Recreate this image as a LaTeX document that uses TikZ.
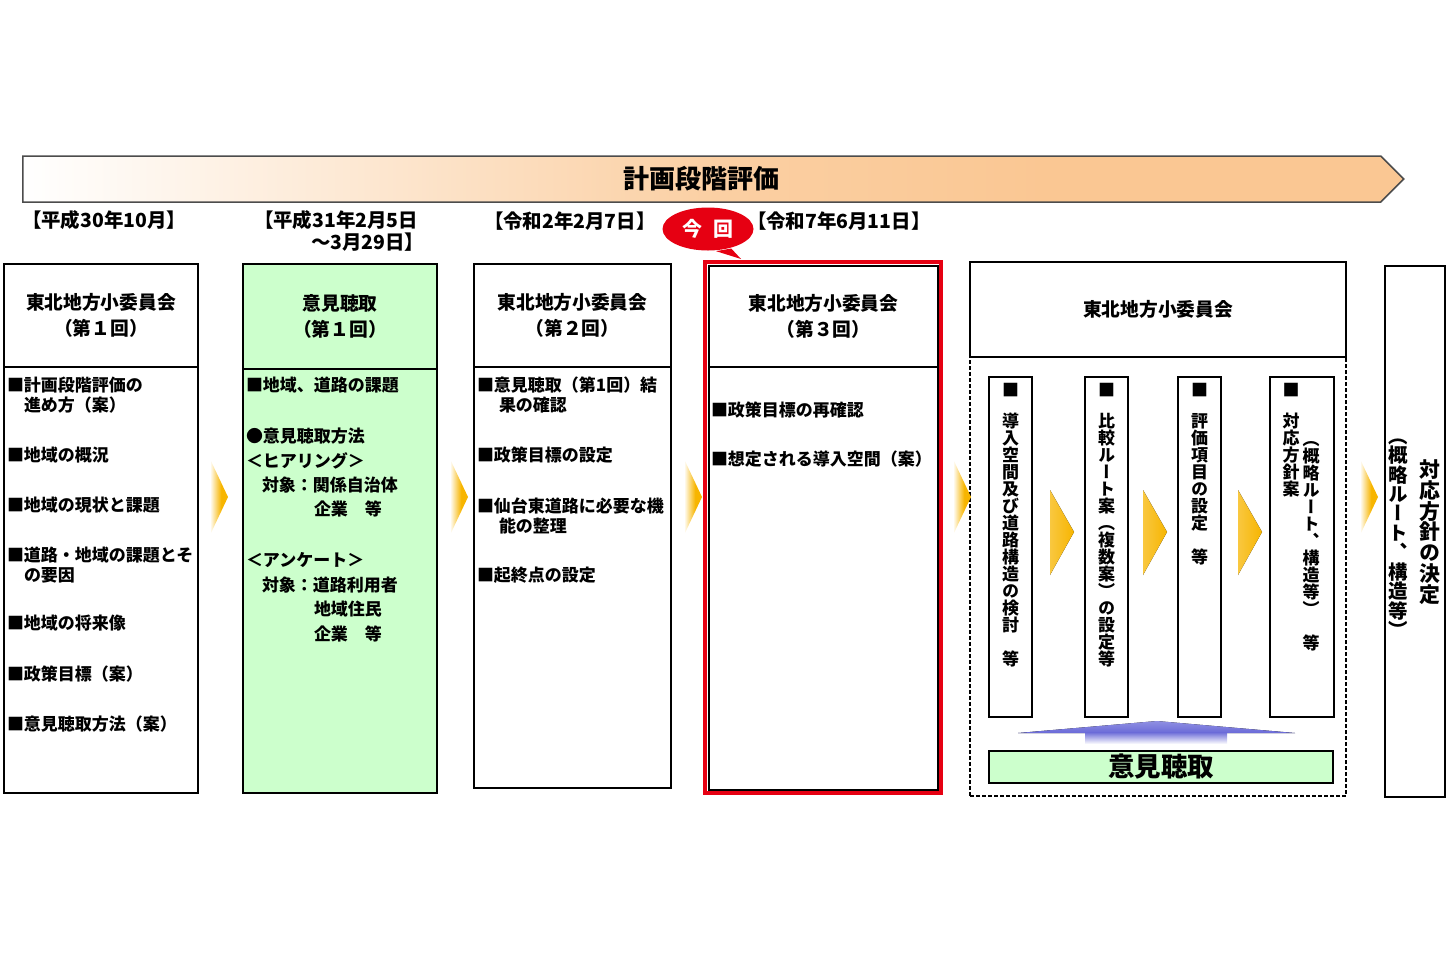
\documentclass[tikz,border=0pt]{standalone}
\usepackage{fontspec}
\setmainfont{Noto Sans CJK JP}
\newfontfamily\tatefont[RawFeature=+vert]{Noto Sans CJK JP}
\usepackage{xcolor}
\usepackage{tikz}
\usetikzlibrary{positioning,shapes.geometric,shapes.symbols}

\definecolor{bpeach}{HTML}{FAC793}
\definecolor{yarrow}{HTML}{F7B500}
\definecolor{lgreen}{HTML}{CCFFCC}
\definecolor{kred}{HTML}{E60012}
\definecolor{bluearr}{HTML}{6A6AD8}
\pgfdeclarehorizontalshading{bannershade}{100bp}{color(0bp)=(white); color(25bp)=(white); color(50bp)=(bpeach!85); color(62bp)=(bpeach); color(100bp)=(bpeach)}
\pgfdeclarehorizontalshading{fadeshade}{100bp}{color(0bp)=(white); color(25bp)=(white); color(45bp)=(yarrow!65); color(56bp)=(yarrow); color(100bp)=(yarrow)}

\newdimen\px \px=0.03cm
\newcommand\itemfont{\fontsize{14.5pt}{17pt}\selectfont\bfseries}
\newcommand\hdfont{\fontsize{16pt}{22.2pt}\selectfont\bfseries}
\newcommand\datefont{\fontsize{16.6pt}{19pt}\selectfont\bfseries}
\newcommand\bannerfont{\fontsize{22.2pt}{26pt}\selectfont\bfseries}
\newcommand\barfont{\fontsize{22.6pt}{26pt}\selectfont\bfseries}
\newcommand\badgefont{\fontsize{17pt}{20pt}\selectfont\bfseries}
\newcommand\tatesize{\fontsize{14.5pt}{17pt}\selectfont\bfseries}
\newcommand\tatebig{\fontsize{16.6pt}{19pt}\selectfont\bfseries}
\newcommand\tatehuge{\fontsize{17.8pt}{21pt}\selectfont\bfseries}
\def\tateloop#1{\ifx#1\relax\else\hbox to 1em{\hss\vrule height .88em depth .12em width 0pt\relax#1\hss}\expandafter\tateloop\fi}
\newcommand\tatetext[1]{\vbox{\offinterlineskip\tateloop#1\relax}}

\begin{document}
\begin{tikzpicture}[x=0.03cm,y=-0.03cm,line width=2\px,
	colbox/.style={draw,rectangle,inner sep=0pt,outer sep=0pt},
	hdbox/.style={colbox,align=center,font=\hdfont},
	item/.style={anchor=west,inner sep=0pt,font=\itemfont},
	datelbl/.style={anchor=west,inner sep=0pt,font=\datefont},
	tate/.style={anchor=north,inner sep=0pt,font=\tatefont\tatesize},
	fadearrow/.style={shading=fadeshade},
	innerarrow/.style={left color=yarrow!75,right color=yarrow}]
	\useasboundingbox (0,0) rectangle (1452,968);

	\node[signal,signal to=east,draw=black!70,shade,shading=bannershade,line width=1.5\px,minimum width=1381\px,minimum height=46\px,inner sep=0pt,anchor=west,font=\bannerfont,name=banner] at (22,179) {計画段階評価};

	\node[datelbl,name=d1] at (21,220) {【平成30年10月】};
	\node[datelbl,name=d2] at (253,220) {【平成31年2月5日};
	\node[datelbl,name=d2b] at (310,242) {～3月29日】};
	\node[datelbl,name=d3] at (483,221) {【令和2年2月7日】};
	\node[datelbl,name=d4] at (746,221) {【令和7年6月11日】};

	\node[ellipse,fill=kred,minimum width=91\px,minimum height=43\px,inner sep=0pt,text=white,font=\badgefont,name=badge] at (708,229) {今\hspace{.6em}回};
	\fill[kred] (badge.-70) -- (741,259) -- (badge.-40) -- cycle;

	\node[hdbox,name=h1,minimum width=194\px,minimum height=103\px] at (101,315.5) {東北地方小委員会\\（第１回）};
	\node[colbox,name=b1,below=0pt of h1,minimum width=194\px,minimum height=426\px]{};
	\node[hdbox,fill=lgreen,name=h2,minimum width=194\px,minimum height=105\px] at (340,316.5) {意見聴取\\（第１回）};
	\node[colbox,fill=lgreen,name=b2,below=0pt of h2,minimum width=194\px,minimum height=424\px]{};
	\node[hdbox,name=h3,minimum width=197\px,minimum height=103\px] at (572.5,315.5) {東北地方小委員会\\（第２回）};
	\node[colbox,name=b3,below=0pt of h3,minimum width=197\px,minimum height=421\px]{};
	\node[hdbox,name=h4,minimum width=229\px,minimum height=101\px] at (823.5,316.5) {東北地方小委員会\\（第３回）};
	\node[colbox,name=b4,below=0pt of h4,minimum width=229\px,minimum height=423\px]{};
	\draw[kred,line width=4.5\px] ([shift={(-4,-4)}]h4.north west) rectangle ([shift={(3,3)}]b4.south east);

	\foreach \x/\y/\t [count=\i] in {6/385/■計画段階評価の,23/405/進め方（案）,6/455/■地域の概況,6/505/■地域の現状と課題,6/555/■道路・地域の課題とそ,23/575/の要因,6/623/■地域の将来像,6/674/■政策目標（案）,6/724/■意見聴取方法（案）}
		\node[item,name=p1-\i] at (\x,\y) {\t};
	\foreach \x/\y/\t [count=\i] in {245/385/■地域、道路の課題,245/436/●意見聴取方法,245/461/＜ヒアリング＞,261/485/対象：関係自治体,313/509/企業　等,245/560/＜アンケート＞,261/585/対象：道路利用者,313/609/地域住民,313/634/企業　等}
		\node[item,name=p2-\i] at (\x,\y) {\t};
	\foreach \x/\y/\t [count=\i] in {476/385/■意見聴取（第1回）結,498/405/果の確認,476/455/■政策目標の設定,476/506/■仙台東道路に必要な機,498/526/能の整理,476/575/■起終点の設定}
		\node[item,name=p3-\i] at (\x,\y) {\t};
	\foreach \x/\y/\t [count=\i] in {710/410/■政策目標の再確認,710/459/■想定される導入空間（案）}
		\node[item,name=p4-\i] at (\x,\y) {\t};

	\node[colbox,dash pattern=on 4\px off 2\px,line width=1.5\px,name=b5,minimum width=376\px,minimum height=439\px,anchor=north] at (1158,357) {};
	\node[hdbox,fill=white,name=h5,above=0pt of b5,minimum width=376\px,minimum height=95\px] {東北地方小委員会};

	\node[colbox,name=v1,minimum width=43\px,minimum height=340\px] at (1010.5,547) {};
	\node[colbox,name=v2,minimum width=43\px,minimum height=340\px] at (1106.5,547) {};
	\node[colbox,name=v3,minimum width=43\px,minimum height=340\px] at (1199.5,547) {};
	\node[colbox,name=v4,minimum width=64\px,minimum height=340\px] at (1302,547) {};
	\foreach \x [count=\i] in {1010.5,1106.5,1199.5,1291}
		\node[item,anchor=center,name=sq\i] at (\x,390) {■};
	\node[tate,name=t1] at (1010.5,412) {\tatetext{導入空間及び道路構造の検討　等}};
	\node[tate,name=t2] at (1106.5,412) {\tatetext{比較ルート案（複数案）の設定等}};
	\node[tate,name=t3] at (1199.5,412) {\tatetext{評価項目の設定　等}};
	\node[tate,name=t4] at (1291,412) {\tatetext{対応方針案}};
	\node[tate,name=t4b] at (1311,430) {\tatetext{（概略ルート、構造等）　等}};
	\foreach \x in {1050,1143,1238}
		\fill[innerarrow] (\x,490) -- (\x+24,532) -- (\x,575) -- cycle;

	\fill[top color=bluearr!75,bottom color=bluearr] (1018,733) -- (1157,721) -- (1295,733) -- cycle;
	\fill[top color=bluearr,bottom color=white] (1085,732) rectangle (1227,744);
	\node[colbox,fill=lgreen,line width=1.5\px,name=g5,minimum width=344\px,minimum height=32\px,font=\barfont] at (1161,767) {意見聴取};

	\node[colbox,name=b6,minimum width=60\px,minimum height=531\px] at (1415,531.5) {};
	\node[tate,font=\tatefont\tatehuge,name=t6] at (1430,458) {\tatetext{対応方針の決定}};
	\node[tate,font=\tatefont\tatebig,name=t6b] at (1398,425) {\tatetext{（概略ルート、構造等）}};

	\foreach \x in {210,450,684,953,1360}
		\shade[fadearrow] (\x,459) -- (\x+18,497) -- (\x,535) -- cycle;
\end{tikzpicture}
\end{document}
